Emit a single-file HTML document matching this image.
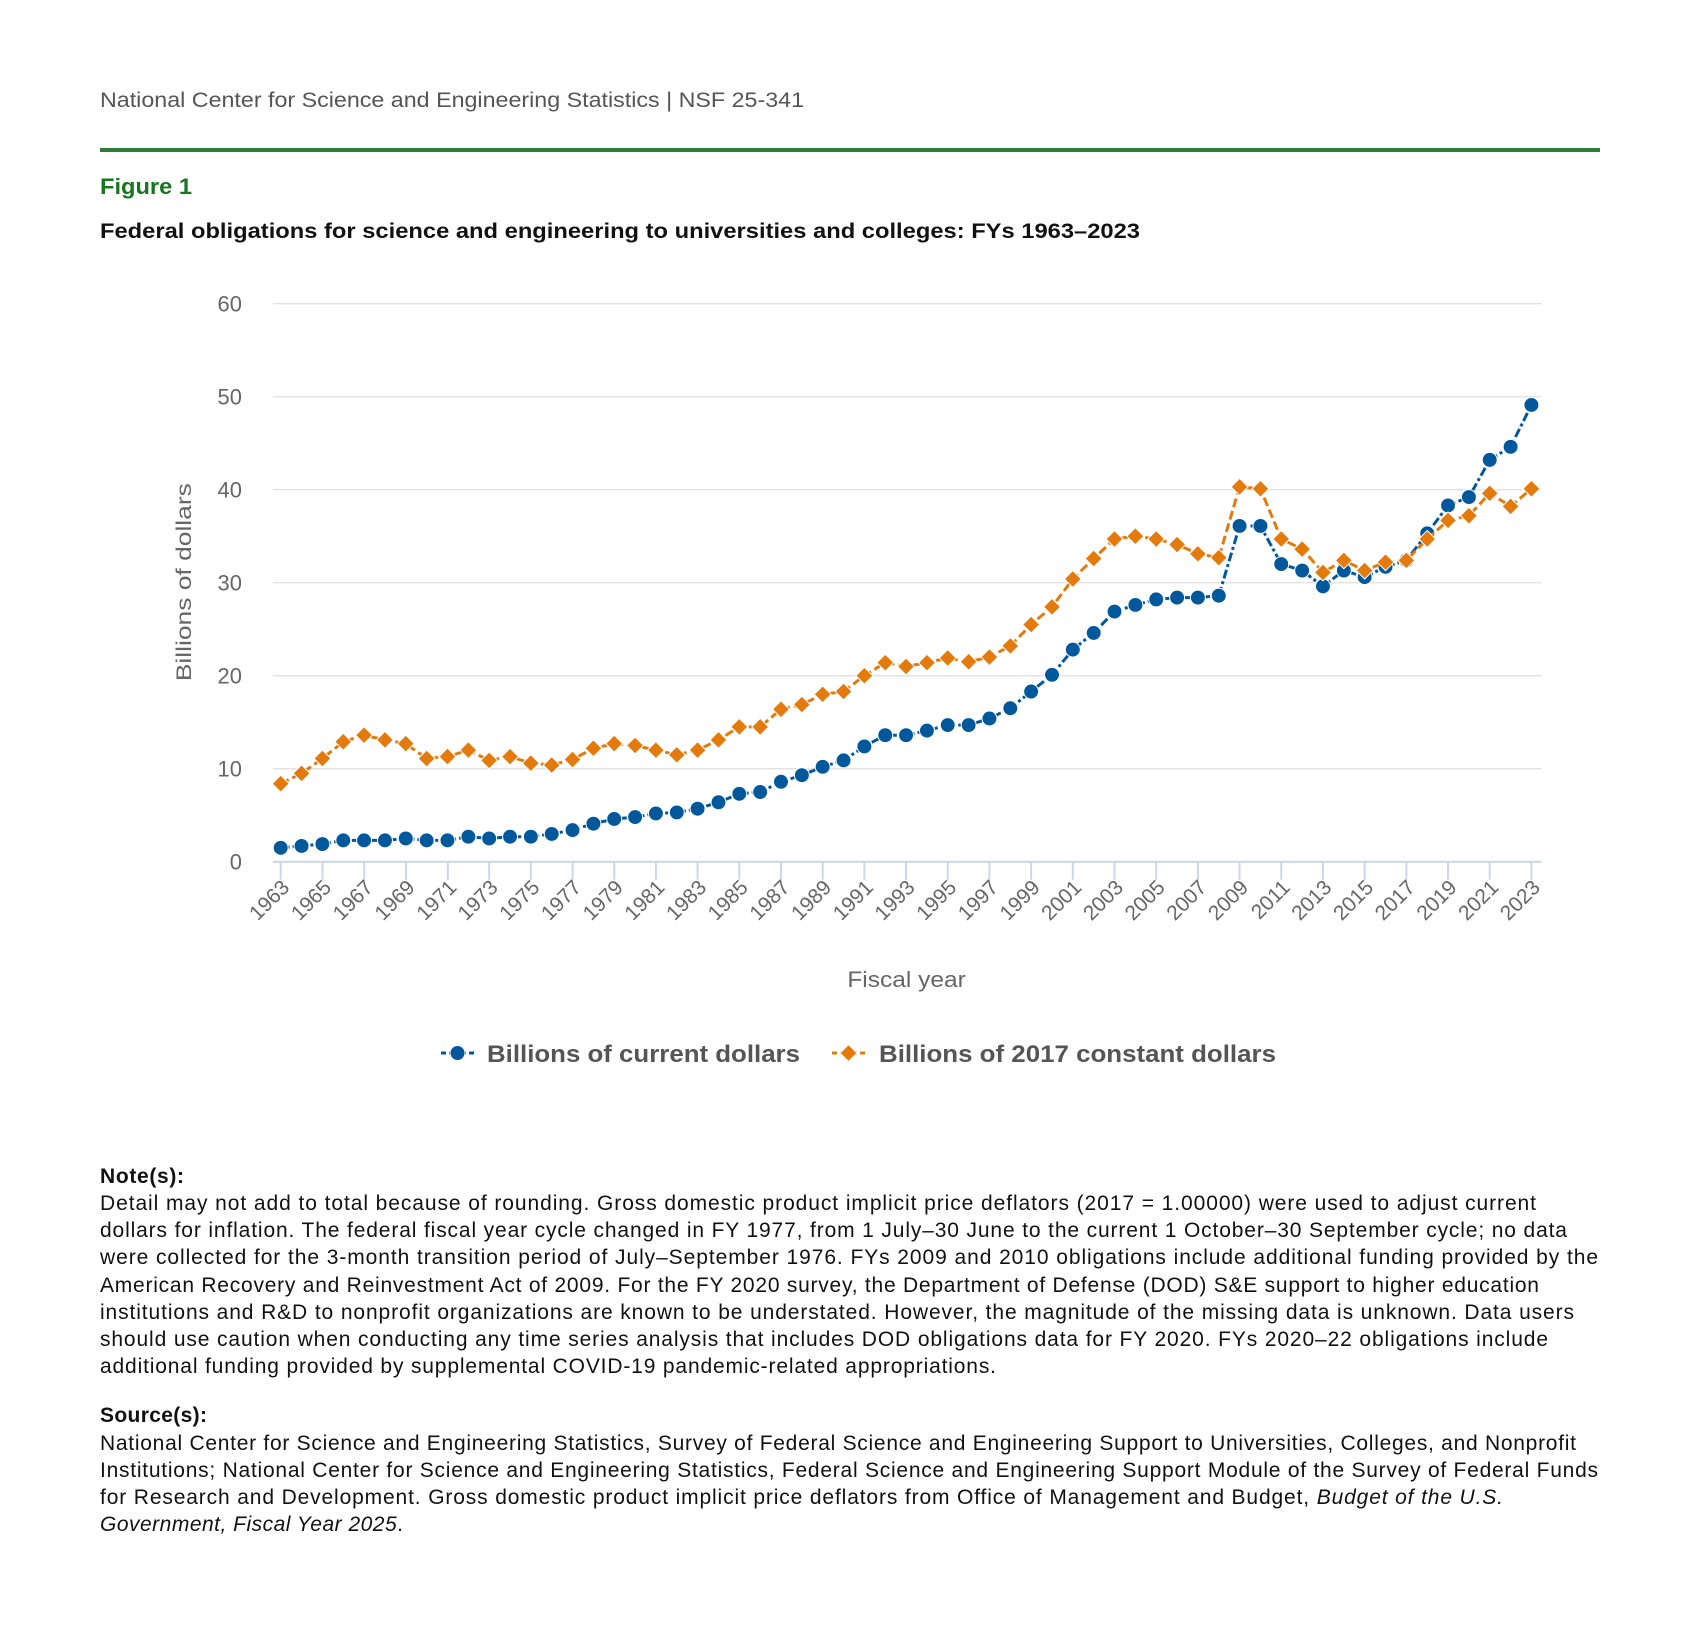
<!DOCTYPE html>
<html><head><meta charset="utf-8"><style>html,body{margin:0;padding:0;background:#fff}svg{display:block}</style></head>
<body>
<svg width="1699" height="1642" viewBox="0 0 1699 1642" xmlns="http://www.w3.org/2000/svg" font-family="Liberation Sans, sans-serif">
<defs><path id="d" d="M0,-8.5 L8.5,0 L0,8.5 L-8.5,0Z" fill="#e47a0c" stroke="#fff" stroke-width="1"/></defs>
<text x="100" y="107" font-size="21" fill="#555" textLength="704" lengthAdjust="spacingAndGlyphs">National Center for Science and Engineering Statistics  |  NSF 25-341</text>
<rect x="100" y="148" width="1500" height="4" fill="#2e7d3a"/>
<text x="100" y="194" font-size="22" font-weight="bold" fill="#18761f" textLength="92" lengthAdjust="spacingAndGlyphs">Figure 1</text>
<text x="100" y="238" font-size="21" font-weight="bold" fill="#111" textLength="1040" lengthAdjust="spacingAndGlyphs">Federal obligations for science and engineering to universities and colleges: FYs 1963–2023</text>
<g transform="translate(0.1,0.1) scale(0.995)">
<g stroke="#e3e3e3" stroke-width="1.5">
<line x1="274" x2="1549" y1="305" y2="305"/><line x1="274" x2="1549" y1="398.5" y2="398.5"/><line x1="274" x2="1549" y1="492" y2="492"/><line x1="274" x2="1549" y1="585.5" y2="585.5"/><line x1="274" x2="1549" y1="679" y2="679"/><line x1="274" x2="1549" y1="772.5" y2="772.5"/>
</g>
<line x1="274" x2="1549" y1="866" y2="866" stroke="#ccd6eb" stroke-width="2"/>
<g stroke="#ccd6eb" stroke-width="2">
<line x1="282" x2="282" y1="866" y2="884"/><line x1="324" x2="324" y1="866" y2="884"/><line x1="366" x2="366" y1="866" y2="884"/><line x1="408" x2="408" y1="866" y2="884"/><line x1="450" x2="450" y1="866" y2="884"/><line x1="491.5" x2="491.5" y1="866" y2="884"/><line x1="533.4" x2="533.4" y1="866" y2="884"/><line x1="575.3" x2="575.3" y1="866" y2="884"/><line x1="617.2" x2="617.2" y1="866" y2="884"/><line x1="659.1" x2="659.1" y1="866" y2="884"/><line x1="701" x2="701" y1="866" y2="884"/><line x1="742.9" x2="742.9" y1="866" y2="884"/><line x1="784.8" x2="784.8" y1="866" y2="884"/><line x1="826.7" x2="826.7" y1="866" y2="884"/><line x1="868.6" x2="868.6" y1="866" y2="884"/><line x1="910.5" x2="910.5" y1="866" y2="884"/><line x1="952.4" x2="952.4" y1="866" y2="884"/><line x1="994.3" x2="994.3" y1="866" y2="884"/><line x1="1036.2" x2="1036.2" y1="866" y2="884"/><line x1="1078.1" x2="1078.1" y1="866" y2="884"/><line x1="1120" x2="1120" y1="866" y2="884"/><line x1="1161.9" x2="1161.9" y1="866" y2="884"/><line x1="1203.8" x2="1203.8" y1="866" y2="884"/><line x1="1245.7" x2="1245.7" y1="866" y2="884"/><line x1="1287.6" x2="1287.6" y1="866" y2="884"/><line x1="1329.5" x2="1329.5" y1="866" y2="884"/><line x1="1371.4" x2="1371.4" y1="866" y2="884"/><line x1="1413.3" x2="1413.3" y1="866" y2="884"/><line x1="1455.2" x2="1455.2" y1="866" y2="884"/><line x1="1497.1" x2="1497.1" y1="866" y2="884"/><line x1="1539" x2="1539" y1="866" y2="884"/>
</g>
<g font-size="22" fill="#666" text-anchor="end">
<text x="243" y="313">60</text><text x="243" y="406.5">50</text><text x="243" y="500">40</text><text x="243" y="593.5">30</text><text x="243" y="687">20</text><text x="243" y="780.5">10</text><text x="243" y="874">0</text>
</g>
<text transform="translate(192,585) rotate(-90)" text-anchor="middle" font-size="21" fill="#666" textLength="199" lengthAdjust="spacingAndGlyphs">Billions of dollars</text>
<g font-size="21" fill="#666" text-anchor="end">
<text transform="translate(292,893) rotate(-45)">1963</text><text transform="translate(334,893) rotate(-45)">1965</text><text transform="translate(376,893) rotate(-45)">1967</text><text transform="translate(418,893) rotate(-45)">1969</text><text transform="translate(460,893) rotate(-45)">1971</text><text transform="translate(501.5,893) rotate(-45)">1973</text><text transform="translate(543.4,893) rotate(-45)">1975</text><text transform="translate(585.3,893) rotate(-45)">1977</text><text transform="translate(627.2,893) rotate(-45)">1979</text><text transform="translate(669.1,893) rotate(-45)">1981</text><text transform="translate(711,893) rotate(-45)">1983</text><text transform="translate(752.9,893) rotate(-45)">1985</text><text transform="translate(794.8,893) rotate(-45)">1987</text><text transform="translate(836.7,893) rotate(-45)">1989</text><text transform="translate(878.6,893) rotate(-45)">1991</text><text transform="translate(920.5,893) rotate(-45)">1993</text><text transform="translate(962.4,893) rotate(-45)">1995</text><text transform="translate(1004.3,893) rotate(-45)">1997</text><text transform="translate(1046.2,893) rotate(-45)">1999</text><text transform="translate(1088.1,893) rotate(-45)">2001</text><text transform="translate(1130,893) rotate(-45)">2003</text><text transform="translate(1171.9,893) rotate(-45)">2005</text><text transform="translate(1213.8,893) rotate(-45)">2007</text><text transform="translate(1255.7,893) rotate(-45)">2009</text><text transform="translate(1297.6,893) rotate(-45)">2011</text><text transform="translate(1339.5,893) rotate(-45)">2013</text><text transform="translate(1381.4,893) rotate(-45)">2015</text><text transform="translate(1423.3,893) rotate(-45)">2017</text><text transform="translate(1465.2,893) rotate(-45)">2019</text><text transform="translate(1507.1,893) rotate(-45)">2021</text><text transform="translate(1549,893) rotate(-45)">2023</text>
</g>
<text x="911" y="992" text-anchor="middle" font-size="22" fill="#666" textLength="119" lengthAdjust="spacingAndGlyphs">Fiscal year</text>
<polyline fill="none" stroke="#00589c" stroke-width="3" stroke-dasharray="9,3,3,3" points="282,852 303,850.1 323.9,848.2 344.9,844.5 365.8,844.5 386.8,844.5 407.7,842.6 428.7,844.5 449.6,844.5 470.6,840.8 491.5,842.6 512.5,840.8 533.4,840.8 554.4,838 575.3,834.2 596.3,827.7 617.2,823 638.2,821.1 659.1,817.4 680.1,816.4 701,812.7 722,806.2 742.9,797.7 763.9,795.9 784.8,785.6 805.8,779 826.7,770.6 847.7,764.1 868.6,750.1 889.6,738.8 910.5,738.8 931.5,734.2 952.4,728.6 973.4,728.6 994.3,722 1015.3,711.7 1036.2,694.9 1057.2,678.1 1078.1,652.8 1099.1,636 1120,614.5 1141,607.9 1161.9,602.3 1182.9,600.5 1203.8,600.5 1224.8,598.6 1245.7,528.5 1266.7,528.5 1287.6,566.8 1308.6,573.3 1329.5,589.2 1350.5,573.3 1371.4,579.9 1392.4,569.6 1413.3,563.1 1434.3,535.9 1455.2,507.9 1476.2,499.5 1497.1,462.1 1518.1,449 1539,406.9"/>
<g fill="#00589c" stroke="#fff" stroke-width="1">
<circle cx="282" cy="852" r="7.5"/><circle cx="303" cy="850.1" r="7.5"/><circle cx="323.9" cy="848.2" r="7.5"/><circle cx="344.9" cy="844.5" r="7.5"/><circle cx="365.8" cy="844.5" r="7.5"/><circle cx="386.8" cy="844.5" r="7.5"/><circle cx="407.7" cy="842.6" r="7.5"/><circle cx="428.7" cy="844.5" r="7.5"/><circle cx="449.6" cy="844.5" r="7.5"/><circle cx="470.6" cy="840.8" r="7.5"/><circle cx="491.5" cy="842.6" r="7.5"/><circle cx="512.5" cy="840.8" r="7.5"/><circle cx="533.4" cy="840.8" r="7.5"/><circle cx="554.4" cy="838" r="7.5"/><circle cx="575.3" cy="834.2" r="7.5"/><circle cx="596.3" cy="827.7" r="7.5"/><circle cx="617.2" cy="823" r="7.5"/><circle cx="638.2" cy="821.1" r="7.5"/><circle cx="659.1" cy="817.4" r="7.5"/><circle cx="680.1" cy="816.4" r="7.5"/><circle cx="701" cy="812.7" r="7.5"/><circle cx="722" cy="806.2" r="7.5"/><circle cx="742.9" cy="797.7" r="7.5"/><circle cx="763.9" cy="795.9" r="7.5"/><circle cx="784.8" cy="785.6" r="7.5"/><circle cx="805.8" cy="779" r="7.5"/><circle cx="826.7" cy="770.6" r="7.5"/><circle cx="847.7" cy="764.1" r="7.5"/><circle cx="868.6" cy="750.1" r="7.5"/><circle cx="889.6" cy="738.8" r="7.5"/><circle cx="910.5" cy="738.8" r="7.5"/><circle cx="931.5" cy="734.2" r="7.5"/><circle cx="952.4" cy="728.6" r="7.5"/><circle cx="973.4" cy="728.6" r="7.5"/><circle cx="994.3" cy="722" r="7.5"/><circle cx="1015.3" cy="711.7" r="7.5"/><circle cx="1036.2" cy="694.9" r="7.5"/><circle cx="1057.2" cy="678.1" r="7.5"/><circle cx="1078.1" cy="652.8" r="7.5"/><circle cx="1099.1" cy="636" r="7.5"/><circle cx="1120" cy="614.5" r="7.5"/><circle cx="1141" cy="607.9" r="7.5"/><circle cx="1161.9" cy="602.3" r="7.5"/><circle cx="1182.9" cy="600.5" r="7.5"/><circle cx="1203.8" cy="600.5" r="7.5"/><circle cx="1224.8" cy="598.6" r="7.5"/><circle cx="1245.7" cy="528.5" r="7.5"/><circle cx="1266.7" cy="528.5" r="7.5"/><circle cx="1287.6" cy="566.8" r="7.5"/><circle cx="1308.6" cy="573.3" r="7.5"/><circle cx="1329.5" cy="589.2" r="7.5"/><circle cx="1350.5" cy="573.3" r="7.5"/><circle cx="1371.4" cy="579.9" r="7.5"/><circle cx="1392.4" cy="569.6" r="7.5"/><circle cx="1413.3" cy="563.1" r="7.5"/><circle cx="1434.3" cy="535.9" r="7.5"/><circle cx="1455.2" cy="507.9" r="7.5"/><circle cx="1476.2" cy="499.5" r="7.5"/><circle cx="1497.1" cy="462.1" r="7.5"/><circle cx="1518.1" cy="449" r="7.5"/><circle cx="1539" cy="406.9" r="7.5"/>
</g>
<polyline fill="none" stroke="#e47a0c" stroke-width="3" stroke-dasharray="9,4" points="282,787.5 303,777.2 323.9,762.2 344.9,745.4 365.8,738.8 386.8,743.5 407.7,747.3 428.7,762.2 449.6,760.3 470.6,753.8 491.5,764.1 512.5,760.3 533.4,766.9 554.4,768.8 575.3,763.2 596.3,751.9 617.2,747.3 638.2,749.1 659.1,753.8 680.1,758.5 701,753.8 722,743.5 742.9,730.4 763.9,730.4 784.8,712.7 805.8,708 826.7,697.7 847.7,694.9 868.6,679 889.6,665.9 910.5,669.7 931.5,665.9 952.4,661.2 973.4,665 994.3,660.3 1015.3,649.1 1036.2,627.6 1057.2,609.8 1078.1,581.8 1099.1,561.2 1120,541.6 1141,538.8 1161.9,541.6 1182.9,547.2 1203.8,556.5 1224.8,560.3 1245.7,489.2 1266.7,491.1 1287.6,541.6 1308.6,551.8 1329.5,575.2 1350.5,563.1 1371.4,573.3 1392.4,564.9 1413.3,563.1 1434.3,541.6 1455.2,522.9 1476.2,518.2 1497.1,495.7 1518.1,508.8 1539,491.1"/>
<g>
<use href="#d" x="282" y="787.5"/><use href="#d" x="303" y="777.2"/><use href="#d" x="323.9" y="762.2"/><use href="#d" x="344.9" y="745.4"/><use href="#d" x="365.8" y="738.8"/><use href="#d" x="386.8" y="743.5"/><use href="#d" x="407.7" y="747.3"/><use href="#d" x="428.7" y="762.2"/><use href="#d" x="449.6" y="760.3"/><use href="#d" x="470.6" y="753.8"/><use href="#d" x="491.5" y="764.1"/><use href="#d" x="512.5" y="760.3"/><use href="#d" x="533.4" y="766.9"/><use href="#d" x="554.4" y="768.8"/><use href="#d" x="575.3" y="763.2"/><use href="#d" x="596.3" y="751.9"/><use href="#d" x="617.2" y="747.3"/><use href="#d" x="638.2" y="749.1"/><use href="#d" x="659.1" y="753.8"/><use href="#d" x="680.1" y="758.5"/><use href="#d" x="701" y="753.8"/><use href="#d" x="722" y="743.5"/><use href="#d" x="742.9" y="730.4"/><use href="#d" x="763.9" y="730.4"/><use href="#d" x="784.8" y="712.7"/><use href="#d" x="805.8" y="708"/><use href="#d" x="826.7" y="697.7"/><use href="#d" x="847.7" y="694.9"/><use href="#d" x="868.6" y="679"/><use href="#d" x="889.6" y="665.9"/><use href="#d" x="910.5" y="669.7"/><use href="#d" x="931.5" y="665.9"/><use href="#d" x="952.4" y="661.2"/><use href="#d" x="973.4" y="665"/><use href="#d" x="994.3" y="660.3"/><use href="#d" x="1015.3" y="649.1"/><use href="#d" x="1036.2" y="627.6"/><use href="#d" x="1057.2" y="609.8"/><use href="#d" x="1078.1" y="581.8"/><use href="#d" x="1099.1" y="561.2"/><use href="#d" x="1120" y="541.6"/><use href="#d" x="1141" y="538.8"/><use href="#d" x="1161.9" y="541.6"/><use href="#d" x="1182.9" y="547.2"/><use href="#d" x="1203.8" y="556.5"/><use href="#d" x="1224.8" y="560.3"/><use href="#d" x="1245.7" y="489.2"/><use href="#d" x="1266.7" y="491.1"/><use href="#d" x="1287.6" y="541.6"/><use href="#d" x="1308.6" y="551.8"/><use href="#d" x="1329.5" y="575.2"/><use href="#d" x="1350.5" y="563.1"/><use href="#d" x="1371.4" y="573.3"/><use href="#d" x="1392.4" y="564.9"/><use href="#d" x="1413.3" y="563.1"/><use href="#d" x="1434.3" y="541.6"/><use href="#d" x="1455.2" y="522.9"/><use href="#d" x="1476.2" y="518.2"/><use href="#d" x="1497.1" y="495.7"/><use href="#d" x="1518.1" y="508.8"/><use href="#d" x="1539" y="491.1"/>
</g>
</g>
<line x1="441" x2="474" y1="1053" y2="1053" stroke="#00589c" stroke-width="3" stroke-dasharray="5,3,17,3,5"/>
<circle cx="457.5" cy="1053" r="7.5" fill="#00589c" stroke="#fff" stroke-width="1"/>
<text x="487" y="1062" font-size="24" font-weight="bold" fill="#555" textLength="313" lengthAdjust="spacingAndGlyphs">Billions of current dollars</text>
<line x1="832" x2="865" y1="1053" y2="1053" stroke="#e47a0c" stroke-width="3" stroke-dasharray="5,3,17,3,5"/>
<use href="#d" x="848.5" y="1053"/>
<text x="879" y="1062" font-size="24" font-weight="bold" fill="#555" textLength="397" lengthAdjust="spacingAndGlyphs">Billions of 2017 constant dollars</text>
<g font-size="21" fill="#111" lengthAdjust="spacingAndGlyphs" transform="translate(0,-6)">
<text x="100" y="1189" font-weight="bold" textLength="84">Note(s):</text>
<text x="100" y="1216" textLength="1436">Detail may not add to total because of rounding. Gross domestic product implicit price deflators (2017 = 1.00000) were used to adjust current</text>
<text x="100" y="1243" textLength="1467">dollars for inflation. The federal fiscal year cycle changed in FY 1977, from 1 July–30 June to the current 1 October–30 September cycle; no data</text>
<text x="100" y="1270" textLength="1498">were collected for the 3-month transition period of July–September 1976. FYs 2009 and 2010 obligations include additional funding provided by the</text>
<text x="100" y="1298" textLength="1439">American Recovery and Reinvestment Act of 2009. For the FY 2020 survey, the Department of Defense (DOD) S&amp;E support to higher education</text>
<text x="100" y="1325" textLength="1474">institutions and R&amp;D to nonprofit organizations are known to be understated. However, the magnitude of the missing data is unknown. Data users</text>
<text x="100" y="1352" textLength="1448">should use caution when conducting any time series analysis that includes DOD obligations data for FY 2020. FYs 2020–22 obligations include</text>
<text x="100" y="1379" textLength="896">additional funding provided by supplemental COVID-19 pandemic-related appropriations.</text>
<text x="100" y="1428" font-weight="bold" textLength="107">Source(s):</text>
<text x="100" y="1456" textLength="1476">National Center for Science and Engineering Statistics, Survey of Federal Science and Engineering Support to Universities, Colleges, and Nonprofit</text>
<text x="100" y="1483" textLength="1498">Institutions; National Center for Science and Engineering Statistics, Federal Science and Engineering Support Module of the Survey of Federal Funds</text>
<text x="100" y="1510" textLength="1403">for Research and Development. Gross domestic product implicit price deflators from Office of Management and Budget, <tspan font-style="italic">Budget of the U.S.</tspan></text>
<text x="100" y="1537" textLength="303"><tspan font-style="italic">Government, Fiscal Year 2025</tspan>.</text>
</g>
</svg>
</body></html>
